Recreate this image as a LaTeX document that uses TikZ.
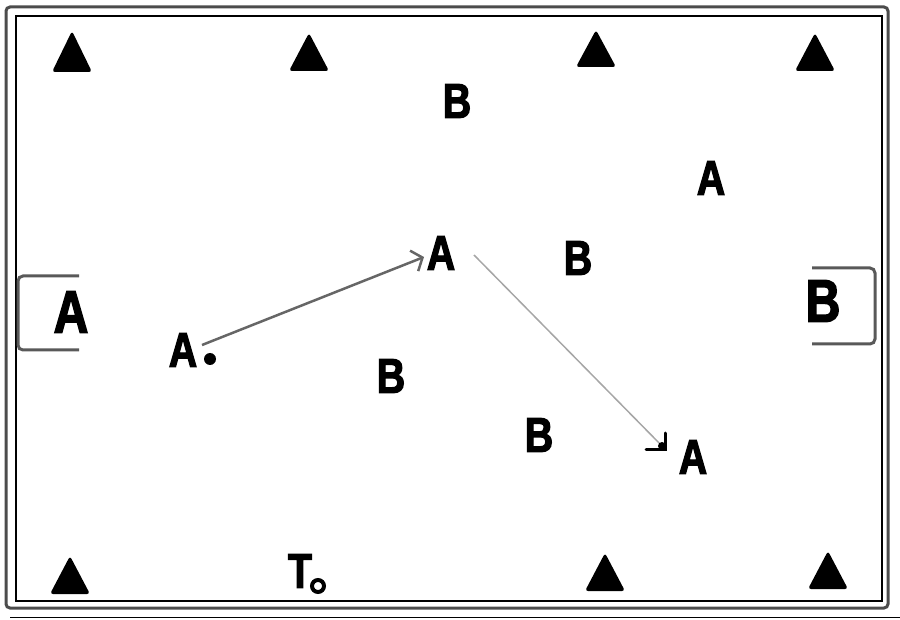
\documentclass[tikz,border=0pt]{standalone}
\usepackage{fontspec}
\newfontfamily\lf[FakeStretch=0.8,FakeBold=2.5]{Liberation Sans}
\usetikzlibrary{arrows.meta,calc}
\tikzset{
  lett/.style={inner sep=0pt, font=\lf\bfseries\fontsize{49}{49}\selectfont},
  biglett/.style={inner sep=0pt, font=\lf\bfseries\fontsize{60}{60}\selectfont},
  frameline/.style={draw=black!70, line width=3pt, rounded corners=4pt},
  bracketline/.style={draw=black!65, line width=3pt, rounded corners=5pt},
  cone/.style={fill=black, rounded corners=3pt},
  passA/.style={draw=black!60, line width=2.5pt, -{Straight Barb[length=9pt,width=22pt,line width=2.5pt]}},
  passB/.style={draw=black!35, line width=1.5pt},
  barb/.style={draw=black, line width=3pt, line cap=round},
}
\begin{document}
\begin{tikzpicture}[x=1pt,y=-1pt]
\useasboundingbox (0,0) rectangle (900,620);
% frame
\draw[frameline] (6,7) rectangle (888,608);
\draw[black, line width=1.2pt] (16,16) rectangle (882,601);
\draw[black, line width=1pt] (10,617) -- (900,617);
% cones
\foreach \cx/\ap/\bs [count=\i] in {72/31/72, 309/33/71, 596/30/67, 815/33/71, 70/556/594, 605/553/591, 828/551/589}{
  \fill[cone] (\cx-20,\bs) -- (\cx+20,\bs) -- (\cx,\ap) -- cycle;
}
% goals
\draw[bracketline] (79,276) -- (18,276) -- (18,350) -- (79,350);
\draw[bracketline] (812,268) -- (875,268) -- (875,344) -- (812,344);
\node[biglett] (gA) at (71,312) {A};
\node[biglett] (gB) at (823,301) {B};
% players
\node[lett] (b1) at (457,101) {B};
\node[lett] (a1) at (711,178) {A};
\node[lett] (a2) at (441,253) {A};
\node[lett] (b2) at (578,258) {B};
\node[lett] (a3) at (183,350) {A};
\node[lett] (b3) at (391,376) {B};
\node[lett] (b4) at (539,435) {B};
\node[lett] (a4) at (693,457) {A};
\node[lett] (t) at (300,571) {T};
% ball & marker
\fill[black] (210,359) circle (6);
\node[draw=black, line width=4pt, circle, minimum size=12pt, inner sep=0pt] (tb) at (318,586) {};
% passes
\coordinate (p1s) at (202,345);
\coordinate (p1e) at (424,257);
\coordinate (p2s) at (474,255);
\coordinate (p2e) at (665,449);
\draw[passA] (p1s) -- (p1e);
\draw[passB] (p2s) -- (p2e);
\draw[barb] ($(p2e)+(0,-16)$) -- (p2e) -- ($(p2e)+(-19,0)$);
\fill[black] ($(p2e)+(-3,-3)$) circle (4);
\end{tikzpicture}
\end{document}
